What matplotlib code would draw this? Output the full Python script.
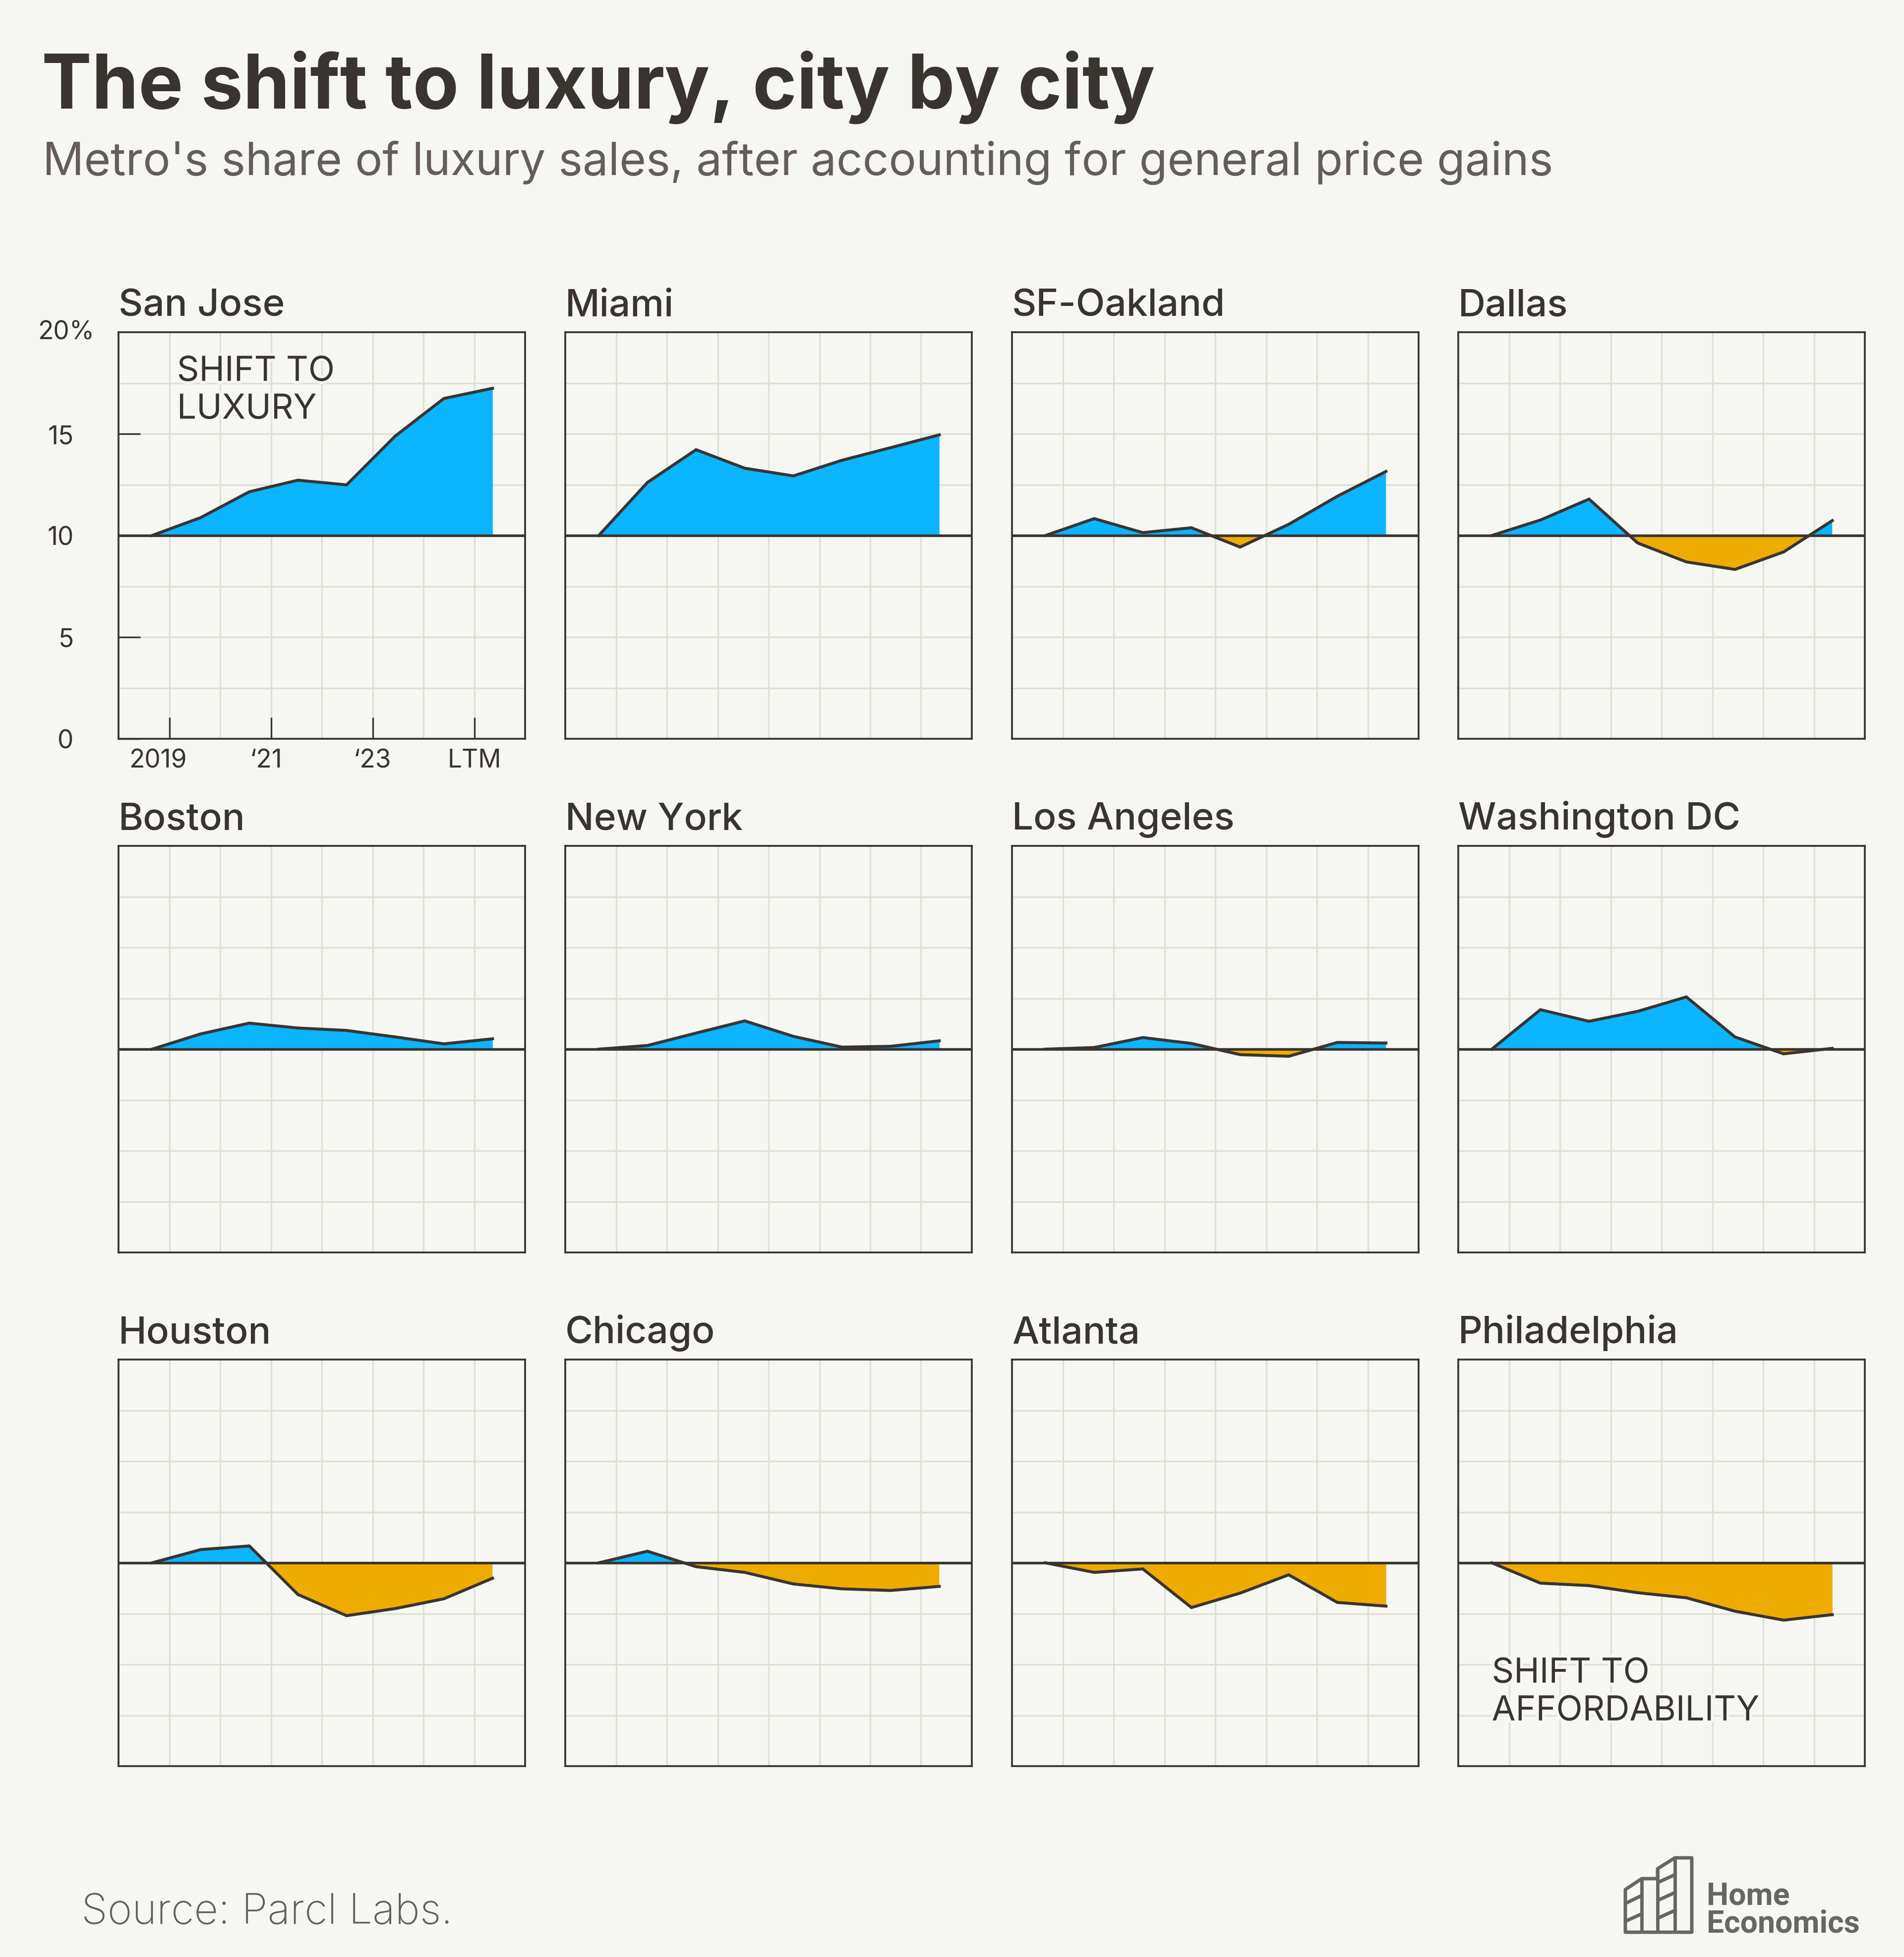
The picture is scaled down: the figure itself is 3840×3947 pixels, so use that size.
import numpy as np
import matplotlib.pyplot as plt
import matplotlib.patheffects as pe
from matplotlib.patches import Polygon
from matplotlib.transforms import ScaledTranslation

# colours
bg = '#f6f7f2'
ink = '#3a3431'
sub_grey = '#645d59'
blue = '#0bb5ff'
orange = '#efac00'
grid_col = '#dde0d2'
logo_grey = '#666666'

# data: share of luxury sales (%), 8 periods from 2018 to LTM
cities = ['San Jose', 'Miami', 'SF-Oakland', 'Dallas',
          'Boston', 'New York', 'Los Angeles', 'Washington DC',
          'Houston', 'Chicago', 'Atlanta', 'Philadelphia']
san_jose = [10.0, 10.88, 12.15, 12.72, 12.49, 14.89, 16.74, 17.24]
miami = [10.0, 12.61, 14.22, 13.31, 12.93, 13.70, 14.32, 14.95]
sf_oakland = [10.0, 10.83, 10.14, 10.38, 9.43, 10.55, 11.93, 13.15]
dallas = [10.0, 10.76, 11.79, 9.63, 8.70, 8.33, 9.19, 10.73]
boston = [10.0, 10.75, 11.28, 11.04, 10.92, 10.60, 10.26, 10.51]
new_york = [10.0, 10.18, 10.79, 11.39, 10.63, 10.10, 10.14, 10.41]
los_angeles = [10.0, 10.08, 10.57, 10.28, 9.73, 9.65, 10.33, 10.30]
washington_dc = [10.0, 11.94, 11.37, 11.86, 12.57, 10.60, 9.77, 10.04]
houston = [10.0, 10.65, 10.83, 8.44, 7.40, 7.75, 8.23, 9.24]
chicago = [10.0, 10.57, 9.81, 9.53, 8.96, 8.72, 8.64, 8.84]
atlanta = [10.0, 9.53, 9.70, 7.80, 8.51, 9.41, 8.05, 7.87]
philadelphia = [10.0, 9.00, 8.88, 8.53, 8.28, 7.62, 7.18, 7.45]
series = [san_jose, miami, sf_oakland, dallas,
          boston, new_york, los_angeles, washington_dc,
          houston, chicago, atlanta, philadelphia]

x_tick_pos = [1, 3, 5, 7]
x_tick_labels = ['2019', '\u201821', '\u201823', 'LTM']
y_tick_pos = [0, 5, 10, 15]
y_tick_labels = ['0', '5', '10', '15']
baseline = 10

W, H = 3840, 3948
plt.rcParams['font.family'] = ['Inter', 'DejaVu Sans']
fig = plt.figure(figsize=(W / 100, H / 100), dpi=100, facecolor=bg)

# overlay for text and logo, in pixel units
over = fig.add_axes([0, 0, 1, 1], zorder=-1)
over.set_xlim(0, W)
over.set_ylim(H, 0)
over.axis('off')

over.text(84, 218, 'The shift to luxury, city by city', fontsize=109,
          fontweight='bold', color=ink, va='baseline')
over.text(86, 353, "Metro's share of luxury sales, after accounting for general price gains",
          fontsize=66.5, color=sub_grey, va='baseline')
over.text(164, 3880, 'Source: Parcl Labs.', fontsize=61, fontweight='light',
          color=sub_grey, va='baseline')

col_left = [239, 1140, 2041, 2941]
row_top = [671, 1707, 2743]
pw, ph = 820, 820

x = 0.66 + 0.957 * np.arange(len(san_jose))
halo = [pe.withStroke(linewidth=8, foreground=bg)]

for i, (name, vals) in enumerate(zip(cities, series)):
    r, c = divmod(i, 4)
    left = col_left[c]
    top = row_top[r]
    ax = fig.add_axes([left / W, 1 - (top + ph) / H, pw / W, ph / H])
    ax.set_facecolor(bg)
    y = np.array(vals)

    ax.set_xlim(0, 8)
    ax.set_ylim(0, 20)
    for gx in range(1, 8):
        ax.axvline(gx, color=grid_col, lw=2.3, zorder=0.5)
    for gy in np.arange(2.5, 20, 2.5):
        ax.axhline(gy, color=grid_col, lw=2.3, zorder=0.5)

    ax.fill_between(x, y, baseline, where=y >= baseline, interpolate=True,
                    color=blue, lw=0, zorder=2)
    ax.fill_between(x, y, baseline, where=y <= baseline, interpolate=True,
                    color=orange, lw=0, zorder=2)
    ax.axhline(baseline, color=ink, lw=3.8, zorder=3)
    ax.plot(x, y, color=ink, lw=4.3, solid_joinstyle='miter', zorder=4)

    for s in ax.spines.values():
        s.set_color(ink)
        s.set_linewidth(2.7)

    ax.text(0, 1 + 34 / ph, name, transform=ax.transAxes, fontsize=55,
            fontweight='medium', color=ink, va='baseline', ha='left')

    if i == 0:
        ax.set_xticks(x_tick_pos, x_tick_labels)
        ax.set_yticks(y_tick_pos, y_tick_labels)
        ax.tick_params(axis='x', direction='in', length=31,
                       width=2.4, color=ink, labelsize=37, labelcolor=ink, pad=14)
        ax.tick_params(axis='y', direction='in', length=32,
                       width=2.4, color=ink, labelsize=37, labelcolor=ink, pad=65)
        for lab in ax.get_yticklabels():
            lab.set_horizontalalignment('right')
        for lab, dx in zip(ax.get_xticklabels(), [-23, -10, 0, 0]):
            lab.set_transform(lab.get_transform()
                              + ScaledTranslation(dx / 100, 0, fig.dpi_scale_trans))
        ax.annotate('20%', xy=(0, 20), xycoords=('axes fraction', 'data'),
                    xytext=(-35, 0), textcoords='offset points',
                    ha='right', va='center', fontsize=37, color=ink)
        ax.text(1.15, 18.85, 'SHIFT TO\nLUXURY', fontsize=50, color=ink,
                va='top', ha='left', linespacing=1.22, zorder=5, path_effects=halo)
    else:
        ax.set_xticks([])
        ax.set_yticks([])

    if name == 'Philadelphia':
        ax.text(0.66, 5.35, 'SHIFT TO\nAFFORDABILITY', fontsize=50, color=ink,
                va='top', ha='left', linespacing=1.22, zorder=5, path_effects=halo)

# Home Economics logo
outline = [(3278, 3898), (3278, 3812), (3311, 3790), (3343, 3790), (3343, 3770),
           (3378, 3748), (3412, 3748), (3412, 3898)]
over.add_patch(Polygon(outline, closed=True, fill=False, ec=logo_grey, lw=5,
                       joinstyle='round'))
for xv, ytop in [(3311, 3790), (3343, 3770), (3378, 3748)]:
    over.plot([xv, xv], [ytop, 3898], color=logo_grey, lw=5, solid_capstyle='butt')
for (x0, y0, x1, y1) in [(3278, 3840, 3311, 3824), (3278, 3876, 3311, 3861),
                         (3343, 3798, 3378, 3782), (3343, 3834, 3378, 3818),
                         (3343, 3870, 3378, 3854)]:
    over.plot([x0, x1], [y0, y1], color=logo_grey, lw=5, solid_capstyle='butt')
over.text(3442, 3841, 'Home', fontsize=45, fontweight='bold', color=logo_grey,
          va='baseline', family=['Roboto', 'DejaVu Sans'])
over.text(3442, 3897, 'Economics', fontsize=45, fontweight='bold', color=logo_grey,
          va='baseline', family=['Roboto', 'DejaVu Sans'])

fig.savefig('out.png', dpi=100, facecolor=bg)
